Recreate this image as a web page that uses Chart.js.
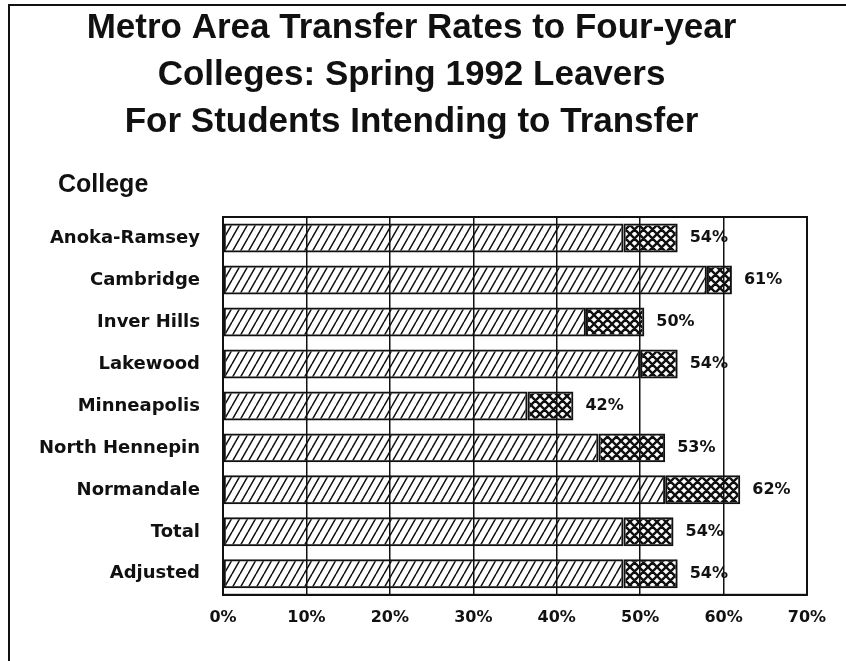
<!DOCTYPE html>
<html>
<head>
<meta charset="utf-8">
<script src="https://cdn.jsdelivr.net/npm/chart.js@4.4.0/dist/chart.umd.min.js"></script>
<style>
html, body { margin: 0; padding: 0; background: #fff; }
#wrap { position: relative; width: 846px; height: 661px; }
#frame { position: absolute; left: 8px; top: 4px; right: 0; bottom: 0;
         border-top: 2px solid #111; border-left: 2px solid #111; pointer-events: none; }
canvas { display: block; }
</style>
</head>
<body>
<div id="wrap">
  <canvas id="chart" width="846" height="661"></canvas>
  <div id="frame"></div>
</div>
<script>
// data
const colleges = ['Anoka-Ramsey', 'Cambridge', 'Inver Hills', 'Lakewood', 'Minneapolis',
                  'North Hennepin', 'Normandale', 'Total', 'Adjusted'];
const firstPart = [48, 58, 43.5, 50, 36.5, 45, 53, 48, 48];      // diagonal hatch
const secondPart = [6.5, 3, 7, 4.5, 5.5, 8, 9, 6, 6.5];          // cross hatch
const rateLabels = ['54%', '61%', '50%', '54%', '42%', '53%', '62%', '54%', '54%'];
const titleLines = ['Metro Area Transfer Rates to Four-year',
                    'Colleges: Spring 1992 Leavers',
                    'For Students Intending to Transfer'];
const axisCaption = 'College';

const ink = '#111';
const labelFont = { family: '"DejaVu Sans", sans-serif', weight: 'bold' };

// "/" hatch, slightly steep
function makeHatch() {
    const c = document.createElement('canvas');
    c.width = 8; c.height = 14;
    const g = c.getContext('2d');
    g.strokeStyle = ink;
    g.lineWidth = 1.5;
    g.beginPath();
    for (let k = -1; k <= 1; k++) {
        g.moveTo(k * 8, 14);
        g.lineTo(k * 8 + 8, 0);
    }
    g.stroke();
    return g.createPattern(c, 'repeat');
}

// diamond cross hatch
function makeCross() {
    const c = document.createElement('canvas');
    c.width = 9; c.height = 9;
    const g = c.getContext('2d');
    g.strokeStyle = ink;
    g.lineWidth = 2.4;
    g.beginPath();
    for (let k = -1; k <= 1; k++) {
        g.moveTo(k * 9, 0); g.lineTo(k * 9 + 9, 9);
        g.moveTo(k * 9, 9); g.lineTo(k * 9 + 9, 0);
    }
    g.stroke();
    return g.createPattern(c, 'repeat');
}

const extras = {
    id: 'extras',
    beforeDatasetsDraw(chart) {
        const a = chart.chartArea;
        const ctx = chart.ctx;
        ctx.save();
        ctx.strokeStyle = ink;
        ctx.lineWidth = 2;
        ctx.strokeRect(a.left, a.top, a.right - a.left, a.bottom - a.top);
        ctx.restore();
    },
    afterDatasetsDraw(chart) {
        const ctx = chart.ctx;
        const meta = chart.getDatasetMeta(1);
        ctx.save();
        ctx.fillStyle = ink;
        ctx.font = 'bold 16px "DejaVu Sans"';
        ctx.textAlign = 'left';
        ctx.textBaseline = 'middle';
        meta.data.forEach((bar, i) => {
            ctx.fillText(rateLabels[i], bar.x + 12, bar.y);
        });
        ctx.font = 'bold 25px "Liberation Sans"';
        ctx.textBaseline = 'alphabetic';
        ctx.fillText(axisCaption, 58, 192);
        ctx.restore();
    }
};

new Chart(document.getElementById('chart'), {
    type: 'bar',
    data: {
        labels: colleges,
        datasets: [
            { data: firstPart, backgroundColor: makeHatch() },
            { data: secondPart, backgroundColor: makeCross() }
        ]
    },
    options: {
        indexAxis: 'y',
        responsive: false,
        animation: false,
        datasets: {
            bar: {
                borderColor: ink,
                borderWidth: 2,
                borderSkipped: false,
                categoryPercentage: 1,
                barPercentage: 0.69
            }
        },
        layout: { padding: { left: 16, right: 39, top: 0, bottom: 21 } },
        plugins: {
            legend: { display: false },
            tooltip: { enabled: false },
            title: {
                display: true,
                text: titleLines,
                color: ink,
                font: { family: '"Liberation Sans", Arial, sans-serif', size: 35, weight: 'bold', lineHeight: '47px' },
                padding: { top: 5, bottom: 71 }
            }
        },
        scales: {
            x: {
                stacked: true,
                min: 0,
                max: 70,
                grid: { color: ink, lineWidth: 1.5, drawTicks: false },
                border: { color: ink, width: 2 },
                ticks: {
                    stepSize: 10,
                    padding: 13,
                    color: ink,
                    font: { ...labelFont, size: 16 },
                    callback: v => v + '%'
                }
            },
            y: {
                stacked: true,
                grid: { display: false, drawTicks: false },
                border: { color: ink, width: 2 },
                ticks: {
                    padding: 23,
                    color: ink,
                    font: { ...labelFont, size: 18 }
                },
                afterFit: s => { s.width = 207; }
            }
        }
    },
    plugins: [extras]
});
</script>
</body>
</html>
